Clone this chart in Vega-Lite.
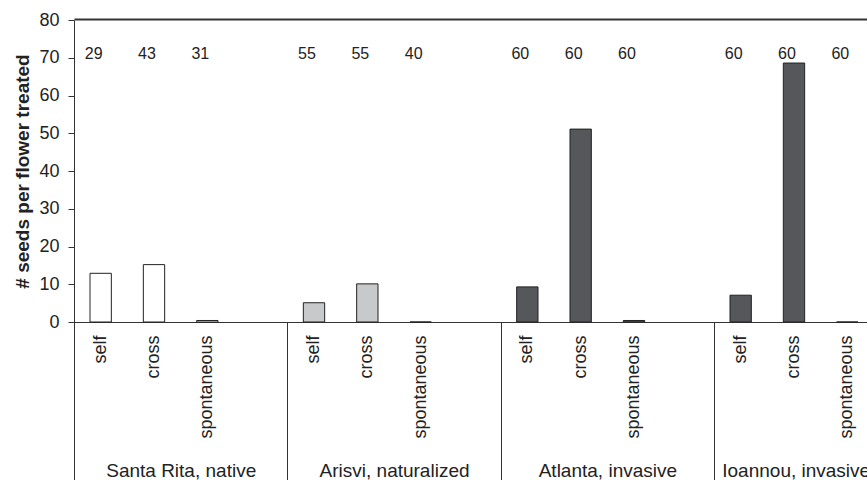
{
  "$schema": "https://vega.github.io/schema/vega-lite/v6.json",
  "width": 793,
  "height": 302,
  "autosize": {"type": "none"},
  "padding": {"left": 74, "top": 20, "right": 0, "bottom": 158},
  "config": {"font": "Liberation Sans", "view": {"stroke": null}, "axis": {"grid": false}},
  "datasets": {
    "seeds": [
      {"site": "Santa Rita, native", "treatment": "self", "seeds": 12.9, "n": 29},
      {"site": "Santa Rita, native", "treatment": "cross", "seeds": 15.2, "n": 43},
      {"site": "Santa Rita, native", "treatment": "spontaneous", "seeds": 0.4, "n": 31},
      {"site": "Arisvi, naturalized", "treatment": "self", "seeds": 5.1, "n": 55},
      {"site": "Arisvi, naturalized", "treatment": "cross", "seeds": 10.1, "n": 55},
      {"site": "Arisvi, naturalized", "treatment": "spontaneous", "seeds": 0, "n": 40},
      {"site": "Atlanta, invasive", "treatment": "self", "seeds": 9.3, "n": 60},
      {"site": "Atlanta, invasive", "treatment": "cross", "seeds": 51.1, "n": 60},
      {"site": "Atlanta, invasive", "treatment": "spontaneous", "seeds": 0.4, "n": 60},
      {"site": "Ioannou, invasive", "treatment": "self", "seeds": 7.1, "n": 60},
      {"site": "Ioannou, invasive", "treatment": "cross", "seeds": 68.6, "n": 60},
      {"site": "Ioannou, invasive", "treatment": "spontaneous", "seeds": 0, "n": 60}
    ]
  },
  "data": {"name": "seeds"},
  "transform": [{"calculate": "datum.site + '|' + datum.treatment", "as": "slot"}],
  "layer": [
    {
      "layer": [
        {
          "mark": {"type": "bar", "width": {"band": 0.4}, "stroke": "#222", "strokeWidth": 1},
          "encoding": {
            "x": {
              "field": "slot", "type": "nominal",
              "scale": {
                "domain": ["Santa Rita, native|self", "Santa Rita, native|cross", "Santa Rita, native|spontaneous", "Santa Rita, native|-",
                           "Arisvi, naturalized|self", "Arisvi, naturalized|cross", "Arisvi, naturalized|spontaneous", "Arisvi, naturalized|-",
                           "Atlanta, invasive|self", "Atlanta, invasive|cross", "Atlanta, invasive|spontaneous", "Atlanta, invasive|-",
                           "Ioannou, invasive|self", "Ioannou, invasive|cross", "Ioannou, invasive|spontaneous"],
                "range": [0, 800], "paddingInner": 0, "paddingOuter": 0
              },
              "axis": {
                "title": null, "ticks": false, "labelAngle": -90, "labelPadding": 13,
                "labelFontSize": 18, "labelColor": "#222", "domainColor": "#333",
                "labelOverlap": false,
                "labelExpr": "split(datum.label, '|')[1] == '-' ? '' : split(datum.label, '|')[1]"
              }
            },
            "y": {
              "field": "seeds", "type": "quantitative", "stack": null,
              "scale": {"domain": [0, 80], "nice": false},
              "axis": {
                "title": "# seeds per flower treated", "values": [0, 10, 20, 30, 40, 50, 60, 70, 80],
                "labelOverlap": false,
                "tickSize": 6, "labelPadding": 9, "labelFontSize": 18, "labelColor": "#222",
                "tickColor": "#333", "domainColor": "#333",
                "titleFontSize": 19, "titleFontWeight": "bold", "titleColor": "#222", "titlePadding": 6
              }
            },
            "fill": {
              "field": "site", "type": "nominal",
              "scale": {"domain": ["Santa Rita, native", "Arisvi, naturalized", "Atlanta, invasive", "Ioannou, invasive"],
                        "range": ["#ffffff", "#c8c9cb", "#55575a", "#55575a"]},
              "legend": null
            }
          }
        },
        {
          "mark": {"type": "text", "fontSize": 16, "color": "#222", "dx": -7, "baseline": "middle"},
          "encoding": {
            "x": {"field": "slot", "type": "nominal"},
            "y": {
              "datum": 71, "type": "quantitative",
              "axis": {
                "title": "# seeds per flower treated", "values": [0, 10, 20, 30, 40, 50, 60, 70, 80],
                "labelOverlap": false,
                "tickSize": 6, "labelPadding": 9, "labelFontSize": 18, "labelColor": "#222",
                "tickColor": "#333", "domainColor": "#333",
                "titleFontSize": 19, "titleFontWeight": "bold", "titleColor": "#222", "titlePadding": 6
              }
            },
            "text": {"field": "n", "type": "quantitative"}
          }
        }
      ]
    },
    {
      "mark": {"type": "point", "opacity": 0},
      "encoding": {
        "x": {
          "field": "slot", "type": "nominal",
          "scale": {
            "domain": ["Santa Rita, native|self", "Santa Rita, native|cross", "Santa Rita, native|spontaneous", "Santa Rita, native|-",
                       "Arisvi, naturalized|self", "Arisvi, naturalized|cross", "Arisvi, naturalized|spontaneous", "Arisvi, naturalized|-",
                       "Atlanta, invasive|self", "Atlanta, invasive|cross", "Atlanta, invasive|spontaneous", "Atlanta, invasive|-",
                       "Ioannou, invasive|self", "Ioannou, invasive|cross", "Ioannou, invasive|spontaneous"],
            "range": [0, 800], "paddingInner": 0, "paddingOuter": 0
          },
          "axis": {
            "orient": "bottom", "title": null, "domain": false,
            "values": ["Santa Rita, native|self", "Arisvi, naturalized|self", "Atlanta, invasive|self", "Ioannou, invasive|self"],
            "tickOffset": -26.667, "tickSize": 158, "tickColor": "#333",
            "labelPadding": -19, "labelAngle": 0, "labelAlign": "center", "labelBaseline": "top",
            "labelFontSize": 19, "labelColor": "#222", "labelOverlap": false,
            "labelOffset": {"condition": {"test": "datum.value == 'Ioannou, invasive|self'", "value": 81.7}, "value": 106.7},
            "labelExpr": "split(datum.label, '|')[0]"
          }
        }
      }
    },
    {
      "mark": {"type": "point", "opacity": 0},
      "encoding": {
        "x": {
          "field": "slot", "type": "nominal",
          "scale": {
            "domain": ["Santa Rita, native|self", "Santa Rita, native|cross", "Santa Rita, native|spontaneous", "Santa Rita, native|-",
                       "Arisvi, naturalized|self", "Arisvi, naturalized|cross", "Arisvi, naturalized|spontaneous", "Arisvi, naturalized|-",
                       "Atlanta, invasive|self", "Atlanta, invasive|cross", "Atlanta, invasive|spontaneous", "Atlanta, invasive|-",
                       "Ioannou, invasive|self", "Ioannou, invasive|cross", "Ioannou, invasive|spontaneous"],
            "range": [0, 800], "paddingInner": 0, "paddingOuter": 0
          },
          "axis": {
            "orient": "top", "title": null, "labels": false, "ticks": false, "offset": 1,
            "domain": true, "domainColor": "#333", "domainWidth": 1.8
          }
        }
      }
    }
  ],
  "resolve": {"scale": {"x": "independent"}, "axis": {"x": "independent"}}
}
